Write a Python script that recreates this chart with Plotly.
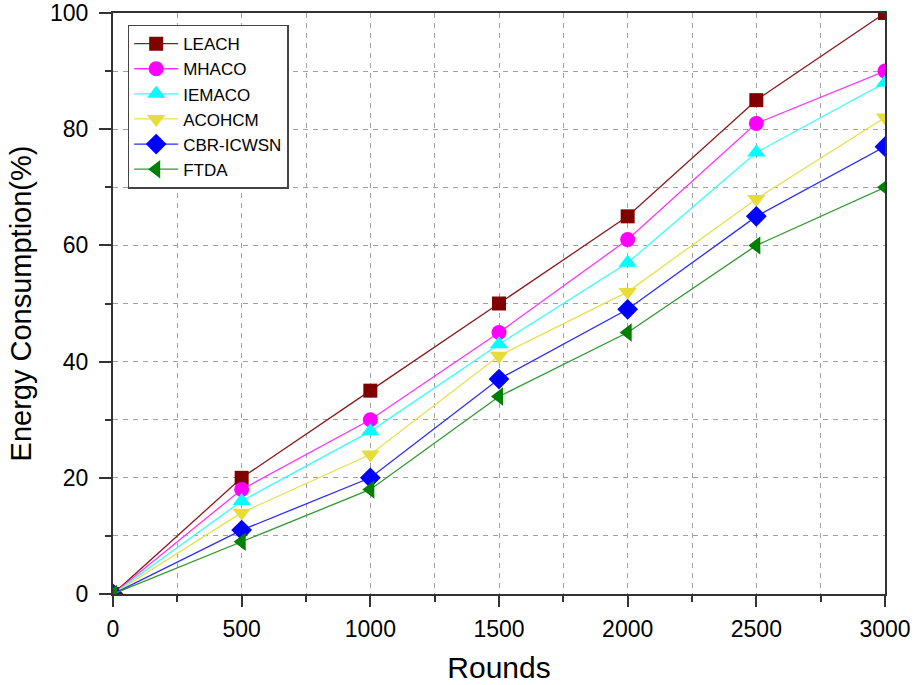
import plotly.graph_objects as go

rounds = [0, 500, 1000, 1500, 2000, 2500, 3000]

leach = [0, 20, 35, 50, 65, 85, 100]
mhaco = [0, 18, 30, 45, 61, 81, 90]
iemaco = [0, 16, 28, 43, 57, 76, 88]
acohcm = [0, 14, 24, 41, 52, 68, 82]
cbr_icwsn = [0, 11, 20, 37, 49, 65, 77]
ftda = [0, 9, 18, 34, 45, 60, 70]

series = [
    ("LEACH", leach, "#8B1A1A", "#800000", "square", 14),
    ("MHACO", mhaco, "#FF33FF", "#FF00FF", "circle", 15),
    ("IEMACO", iemaco, "#33FFFF", "#00FFFF", "triangle-up", 16),
    ("ACOHCM", acohcm, "#E8E04A", "#E6DC3A", "triangle-down", 16),
    ("CBR-ICWSN", cbr_icwsn, "#2B2BFF", "#0000FF", "diamond", 16),
    ("FTDA", ftda, "#2E9A2E", "#008000", "triangle-left", 16),
]

fig = go.Figure()
for name, vals, lc, mc, sym, sz in series:
    fig.add_trace(go.Scatter(
        x=rounds, y=vals, name=name, mode="lines+markers",
        line=dict(color=lc, width=1.3),
        marker=dict(symbol=sym, size=sz, color=mc, line=dict(width=0)),
    ))

font = "Liberation Sans, Arial, sans-serif"
grid = dict(showgrid=True, gridcolor="#A0A0A0", griddash="5px,5px", gridwidth=1)
fig.update_layout(
    width=917, height=685,
    margin=dict(l=113, r=32, t=13, b=91),
    paper_bgcolor="white", plot_bgcolor="white",
    font=dict(family=font, color="black"),
    showlegend=True,
    legend=dict(
        x=0.019, y=0.98, xanchor="left", yanchor="top",
        bgcolor="white", bordercolor="#444", borderwidth=1.5,
        font=dict(size=17, family=font), itemwidth=44,
        tracegroupgap=0, traceorder="normal",
    ),
    xaxis=dict(
        range=[0, 3000], tickvals=[0, 500, 1000, 1500, 2000, 2500, 3000],
        automargin=False,
        showline=True, linecolor="#333", linewidth=2, mirror=True,
        ticks="outside", ticklen=11, tickwidth=1.5, tickcolor="#333",
        ticklabelstandoff=2,
        tickfont=dict(size=23, family=font),
        **grid,
        minor=dict(dtick=250, ticks="outside", ticklen=6, tickcolor="#333",
                   showgrid=True, gridcolor="#A0A0A0", griddash="5px,5px"),
        title=dict(text="Rounds", font=dict(size=30, family=font), standoff=16),
        zeroline=False,
    ),
    yaxis=dict(
        range=[0, 100], tickvals=[0, 20, 40, 60, 80, 100],
        automargin=False,
        showline=True, linecolor="#333", linewidth=2, mirror=True,
        ticks="outside", ticklen=12, tickwidth=1.5, tickcolor="#333",
        ticklabelstandoff=6,
        tickfont=dict(size=23, family=font),
        **grid,
        minor=dict(dtick=10, ticks="outside", ticklen=6, tickcolor="#333",
                   showgrid=True, gridcolor="#A0A0A0", griddash="5px,5px"),
        title=dict(text="Energy Consumption(%)", font=dict(size=29, family=font), standoff=10),
        zeroline=False,
    ),
)

fig.write_html("out.html")
